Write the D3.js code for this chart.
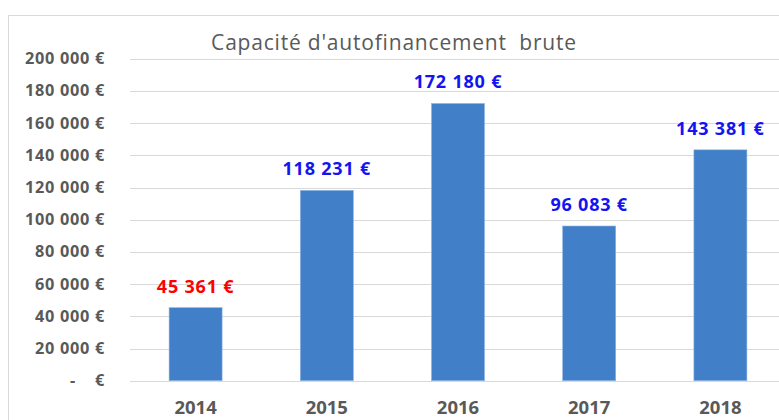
<!DOCTYPE html>
<html>
<head>
<meta charset="utf-8">
<script src="https://cdn.jsdelivr.net/npm/d3@7"></script>
<style>
  body { margin: 0; background: #fff; overflow: hidden; }
  text { font-family: "Open Sans", "Noto Sans", sans-serif; }
</style>
</head>
<body>
<div id="chart"></div>
<script>
/* Data */
const years = ["2014", "2015", "2016", "2017", "2018"];
const values = [45361, 118231, 172180, 96083, 143381];
const yTicks = [0, 20000, 40000, 60000, 80000, 100000, 120000, 140000, 160000, 180000, 200000];
const chartTitle = "Capacité d'autofinancement  brute";

/* Dimensions */
const W = 779, H = 420;
const plot = { left: 130, right: 786, top: 58.7, bottom: 380.7 };

function fmt(v) {
  // "172 180 €" style grouping
  return d3.format(",")(v).replace(/,/g, " ") + " €";
}

function makeGraph() {
  const svg = d3.select("#chart").append("svg")
    .attr("width", W)
    .attr("height", H);

  // chart frame
  svg.append("rect")
    .attr("x", 8.5).attr("y", 15.5)
    .attr("width", W).attr("height", H)
    .attr("fill", "none")
    .attr("stroke", "#d9d9d9");

  const x = d3.scaleBand()
    .domain(years)
    .range([plot.left, plot.right])
    .paddingInner(0.596)
    .paddingOuter(0.298);

  const y = d3.scaleLinear()
    .domain([0, 200000])
    .range([plot.bottom, plot.top]);

  // gridlines
  svg.append("g")
    .selectAll("line")
    .data(yTicks)
    .join("line")
      .attr("x1", plot.left)
      .attr("x2", W)
      .attr("y1", d => Math.round(y(d)) + 0.5)
      .attr("y2", d => Math.round(y(d)) + 0.5)
      .attr("stroke", "#d9d9d9")
      .attr("stroke-width", 1);

  // y labels
  const yl = svg.append("g")
    .attr("font-size", 16.3)
    .attr("font-weight", "bold")
    .attr("letter-spacing", 0.7)
    .attr("fill", "#595959");
  yTicks.forEach(function(d) {
    if (d === 0) {
      yl.append("text").attr("x", 70).attr("y", y(d) + 5.5).text("-");
      yl.append("text").attr("x", 105).attr("y", y(d) + 5.5)
        .attr("text-anchor", "end").text("€");
    } else {
      yl.append("text").attr("x", 105).attr("y", y(d) + 5.5)
        .attr("text-anchor", "end").text(fmt(d));
    }
  });

  // bars
  svg.append("g")
    .selectAll("rect")
    .data(values)
    .join("rect")
      .attr("x", (d, i) => x(years[i]))
      .attr("y", d => y(d))
      .attr("width", x.bandwidth())
      .attr("height", d => y(0) - y(d))
      .attr("fill", "#417fc8")
      .attr("stroke", "#8fb4e0")
      .attr("stroke-width", 0.6);

  // value labels
  svg.append("g")
    .selectAll("text")
    .data(values)
    .join("text")
      .attr("x", (d, i) => x(years[i]) + x.bandwidth() / 2)
      .attr("y", d => y(d) - 15)
      .attr("text-anchor", "middle")
      .attr("font-size", 18)
      .attr("font-weight", "bold")
      .attr("letter-spacing", 0.8)
      .attr("fill", (d, i) => i === 0 ? "#ff0000" : "#1414f0")
      .text(d => fmt(d));

  // x labels
  svg.append("g")
    .selectAll("text")
    .data(years)
    .join("text")
      .attr("x", d => x(d) + x.bandwidth() / 2)
      .attr("y", 414)
      .attr("text-anchor", "middle")
      .attr("font-size", 18.5)
      .attr("font-weight", "bold")
      .attr("fill", "#595959")
      .text(d => d);

  // title
  svg.append("text")
    .attr("x", 394)
    .attr("y", 50)
    .attr("text-anchor", "middle")
    .attr("font-size", 21)
    .attr("letter-spacing", 0.8)
    .attr("fill", "#595959")
    .style("white-space", "pre")
    .text(chartTitle);
}

makeGraph();
</script>
</body>
</html>
